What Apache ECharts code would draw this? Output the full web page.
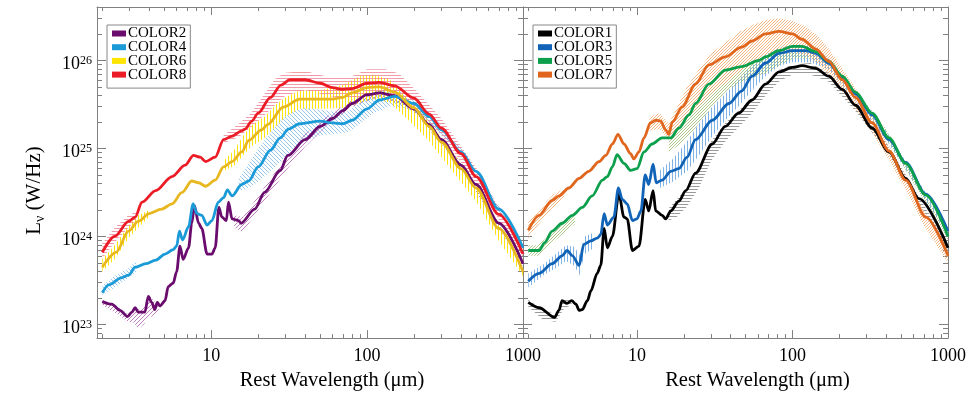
<!DOCTYPE html>
<html>
<head>
<meta charset="utf-8">
<script src="https://cdn.jsdelivr.net/npm/echarts@6/dist/echarts.min.js"></script>
<style>
  html, body { margin: 0; padding: 0; background: #fff; }
  #chart { width: 969px; height: 396px; }
</style>
</head>
<body>
<div id="chart"></div>
<script>
// ---- data (wavelength in micron, luminosity as log10 L_nu [W/Hz]) ----
// left panel
const c2X = [2.0, 2.3, 2.6, 2.9, 3.1, 3.25, 3.4, 3.75, 3.95, 4.15, 4.35, 4.5, 4.7, 5.05, 5.3, 5.7, 6.0, 6.3, 6.6, 7.15, 7.5, 7.8, 8.3, 8.7, 9.4, 10.1, 10.6, 11.2, 11.7, 12.5, 12.9, 13.6, 15.0, 15.5, 19, 22, 27.7, 31, 40, 50, 60, 70, 80, 100, 120, 150, 200, 250, 300, 400, 500, 700, 1000];
const c2LogL = [23.26, 23.23, 23.16, 23.09, 23.14, 23.19, 23.14, 23.14, 23.32, 23.25, 23.17, 23.25, 23.21, 23.27, 23.43, 23.47, 23.60, 23.89, 23.74, 23.87, 24.15, 24.35, 24.15, 24.09, 23.80, 23.80, 23.87, 24.33, 24.22, 24.18, 24.39, 24.20, 24.18, 24.15, 24.31, 24.50, 24.75, 24.92, 25.10, 25.25, 25.34, 25.43, 25.51, 25.61, 25.63, 25.60, 25.45, 25.27, 25.10, 24.81, 24.59, 24.15, 23.69];

const c4X = [2.0, 2.2, 2.65, 2.95, 3.25, 3.8, 4.4, 5.05, 5.7, 6.0, 6.25, 6.55, 7.15, 7.65, 8.1, 8.7, 9.4, 10.1, 11.1, 12.0, 12.7, 13.6, 15.7, 17.4, 20, 24, 27.7, 31.3, 37, 50, 60, 70, 80, 100, 120, 150, 200, 250, 300, 400, 500, 700, 1000];
const c4LogL = [23.36, 23.45, 23.53, 23.56, 23.65, 23.69, 23.73, 23.80, 23.85, 23.89, 24.06, 23.96, 24.11, 24.37, 24.26, 24.24, 24.13, 24.18, 24.39, 24.44, 24.53, 24.46, 24.59, 24.63, 24.79, 24.98, 25.12, 25.22, 25.28, 25.31, 25.29, 25.28, 25.32, 25.45, 25.55, 25.59, 25.51, 25.36, 25.21, 24.96, 24.74, 24.31, 23.87];

const c6X = [2.0, 2.45, 2.95, 3.4, 4.0, 4.8, 5.6, 6.5, 7.5, 8.3, 9.2, 10.6, 12, 13.6, 15.7, 17.4, 21, 23, 29, 37, 50, 60, 70, 80, 100, 120, 150, 200, 250, 300, 400, 500, 700, 1000];
const c6LogL = [23.65, 23.82, 24.06, 24.17, 24.26, 24.31, 24.37, 24.50, 24.63, 24.61, 24.57, 24.64, 24.79, 24.85, 24.96, 25.09, 25.21, 25.27, 25.47, 25.56, 25.56, 25.56, 25.58, 25.63, 25.69, 25.70, 25.64, 25.46, 25.25, 25.07, 24.77, 24.55, 24.09, 23.60];

const c8X = [2.0, 2.4, 2.95, 3.25, 3.6, 4.4, 5.6, 6.8, 7.7, 8.5, 9.2, 10.6, 12, 13.6, 15.7, 16.5, 18.2, 20, 24, 28, 32, 40, 50, 60, 70, 80, 100, 120, 150, 200, 250, 300, 400, 500, 700, 1000];
const c8LogL = [23.82, 24.00, 24.17, 24.22, 24.39, 24.52, 24.68, 24.81, 24.92, 24.90, 24.85, 24.90, 25.10, 25.14, 25.20, 25.22, 25.31, 25.40, 25.58, 25.72, 25.78, 25.78, 25.74, 25.69, 25.67, 25.68, 25.74, 25.75, 25.71, 25.57, 25.39, 25.23, 24.94, 24.68, 24.25, 23.80];

// right panel
const c1X = [2.0, 2.35, 2.95, 3.15, 3.3, 3.55, 3.8, 4.05, 4.25, 4.45, 4.8, 5.05, 5.55, 5.85, 6.15, 6.45, 6.95, 7.65, 8.25, 8.65, 9.35, 10.3, 11.3, 11.9, 12.7, 13.2, 14.5, 15.3, 16.5, 18.6, 20.6, 23.8, 30.5, 37, 45, 55, 67, 82, 100, 115, 141, 171, 209, 254, 325, 418, 534, 650, 1000];
const c1LogL = [23.25, 23.19, 23.08, 23.16, 23.27, 23.24, 23.27, 23.23, 23.16, 23.17, 23.27, 23.38, 23.58, 23.67, 24.09, 23.87, 24.00, 24.48, 24.22, 24.20, 23.84, 23.89, 24.42, 24.29, 24.52, 24.29, 24.24, 24.20, 24.29, 24.40, 24.52, 24.72, 25.05, 25.25, 25.40, 25.55, 25.73, 25.87, 25.92, 25.94, 25.91, 25.82, 25.67, 25.49, 25.23, 24.96, 24.66, 24.43, 23.87];

const c3X = [2.0, 2.35, 2.85, 3.3, 3.55, 3.85, 4.25, 4.55, 5.05, 5.55, 5.85, 6.15, 6.45, 7.1, 7.6, 8.05, 8.65, 9.35, 10.0, 10.6, 11.3, 11.9, 12.7, 13.3, 14.5, 16.5, 18.6, 21, 23.8, 30.5, 39, 47, 55, 67, 82, 100, 122, 141, 171, 209, 254, 325, 418, 534, 720, 1000];
const c3LogL = [23.49, 23.58, 23.69, 23.78, 23.84, 23.78, 23.67, 23.91, 23.95, 23.98, 24.02, 24.26, 24.13, 24.22, 24.55, 24.42, 24.37, 24.18, 24.20, 24.29, 24.70, 24.59, 24.82, 24.61, 24.64, 24.74, 24.77, 24.90, 25.10, 25.32, 25.51, 25.65, 25.82, 25.97, 26.08, 26.11, 26.11, 26.08, 25.97, 25.80, 25.62, 25.38, 25.10, 24.84, 24.48, 24.06];

const c5X = [2.0, 2.35, 2.55, 2.85, 3.3, 3.85, 4.45, 5.15, 6.0, 6.45, 6.95, 7.45, 8.25, 9.1, 10.0, 11.1, 12.5, 14.5, 16.5, 18.6, 21.6, 23.8, 29, 37, 47, 61, 67, 82, 100, 115, 141, 171, 209, 254, 325, 418, 534, 720, 1000];
const c5LogL = [23.84, 23.84, 23.93, 24.06, 24.15, 24.24, 24.33, 24.46, 24.64, 24.68, 24.79, 24.93, 24.83, 24.75, 24.77, 24.96, 25.05, 25.12, 25.12, 25.23, 25.38, 25.51, 25.73, 25.89, 25.93, 26.00, 26.04, 26.11, 26.16, 26.16, 26.10, 25.99, 25.82, 25.64, 25.40, 25.12, 24.83, 24.47, 24.00];

const c7X = [2.0, 2.35, 2.85, 3.15, 3.65, 4.25, 4.9, 5.7, 6.3, 6.95, 7.55, 8.25, 9.1, 9.55, 10.3, 11.1, 12.2, 13.2, 14.2, 15.3, 16.0, 16.9, 19.5, 23.8, 29, 37, 47, 55, 67, 82, 100, 115, 141, 171, 209, 254, 325, 418, 534, 720, 1000];
const c7LogL = [24.07, 24.24, 24.41, 24.46, 24.55, 24.66, 24.74, 24.85, 24.92, 25.05, 25.16, 25.05, 24.94, 24.88, 24.96, 25.12, 25.29, 25.32, 25.31, 25.21, 25.16, 25.30, 25.47, 25.73, 25.95, 26.04, 26.15, 26.22, 26.30, 26.33, 26.30, 26.24, 26.13, 25.99, 25.78, 25.58, 25.29, 24.97, 24.64, 24.22, 23.78];

// uncertainty bands (log10 L), null splits a band into pieces
const c2BandX = [2.0, 2.6, 2.9, 3.2, 3.4, 3.7, 4.0, 4.3, 4.6, null, 14, 16, 20, 25, 30, 40, 55, 80, 120, 200, 400, 1000];
const c2BandLo = [23.22, 23.10, 23.03, 23.02, 22.95, 23.00, 23.10, 23.08, 23.15, null, 24.10, 24.05, 24.30, 24.54, 24.74, 25.02, 25.26, 25.47, 25.59, 25.42, 24.78, 23.66];
const c2BandHi = [23.28, 23.18, 23.12, 23.20, 23.17, 23.20, 23.34, 23.26, 23.26, null, 24.24, 24.22, 24.46, 24.70, 24.90, 25.16, 25.36, 25.55, 25.66, 25.48, 24.84, 23.71];

const c4BandX = [2.0, 2.4, 2.95, 3.3, null, 15, 17, 20, 24, 28, 33, 40, 50, 60, 75, 90, 110, 140, 180, 250, 400, 700, 1000];
const c4BandLo = [23.33, 23.42, 23.53, 23.60, null, 24.52, 24.54, 24.62, 24.74, 24.86, 24.98, 25.08, 25.15, 25.16, 25.18, 25.28, 25.40, 25.48, 25.46, 25.30, 24.91, 24.28, 23.84];
const c4BandHi = [23.44, 23.55, 23.64, 23.72, null, 24.66, 24.80, 25.00, 25.18, 25.32, 25.42, 25.46, 25.44, 25.42, 25.42, 25.52, 25.64, 25.68, 25.62, 25.42, 25.00, 24.35, 23.90];

const c6BandX = [2.0, 2.4, 2.95, 3.4, 4.0, null, 12, 14, 16, 18, 22, 26, 30, 37, 50, 70, 90, 110, 140, 180, 250, 350, 500, 700, 1000];
const c6BandLo = [23.60, 23.74, 23.98, 24.10, 24.22, null, 24.74, 24.80, 24.92, 25.02, 25.12, 25.25, 25.36, 25.45, 25.45, 25.46, 25.52, 25.56, 25.52, 25.34, 25.08, 24.75, 24.40, 23.95, 23.55];
const c6BandHi = [23.74, 23.90, 24.12, 24.24, 24.30, null, 24.86, 24.98, 25.14, 25.26, 25.36, 25.50, 25.58, 25.66, 25.66, 25.72, 25.82, 25.84, 25.78, 25.58, 25.30, 24.97, 24.58, 24.12, 23.62];

const c8BandX = [2.0, 2.4, 2.95, 3.3, null, 12, 15, 18, 22, 26, 30, 40, 60, 80, 100, 130, 160, 200, 300, 500, 1000];
const c8BandLo = [23.75, 23.93, 24.10, 24.18, null, 25.06, 25.13, 25.24, 25.38, 25.50, 25.60, 25.66, 25.59, 25.56, 25.60, 25.62, 25.58, 25.48, 25.15, 24.60, 23.76];
const c8BandHi = [23.92, 24.10, 24.24, 24.28, null, 25.15, 25.28, 25.40, 25.62, 25.80, 25.86, 25.88, 25.80, 25.82, 25.90, 25.90, 25.85, 25.68, 25.34, 24.78, 23.84];

const c1BandX = [2.0, 2.5, 3.0, 3.4, 3.8, null, 16, 18, 21, 25, 30, 37, 45, 55, 67, 82, 100, 130, 170, 250, 400, 1000];
const c1BandLo = [23.20, 23.05, 23.03, 23.18, 23.22, null, 24.18, 24.22, 24.34, 24.55, 24.86, 25.08, 25.24, 25.40, 25.60, 25.76, 25.84, 25.84, 25.76, 25.44, 24.98, 23.84];
const c1BandHi = [23.28, 23.16, 23.12, 23.30, 23.29, null, 24.32, 24.42, 24.55, 24.78, 25.08, 25.29, 25.43, 25.57, 25.75, 25.89, 25.95, 25.97, 25.86, 25.52, 25.07, 23.90];

const c3BandX = [2.0, 2.5, 3.0, 3.5, 4.0, 4.25, 4.6, 5.2, null, 14, 17, 21, 25, 30, 37, 45, 55, 67, 82, 100, 130, 170, 250, 400, 1000];
const c3BandLo = [23.42, 23.56, 23.64, 23.72, 23.66, 23.55, 23.80, 23.86, null, 24.55, 24.62, 24.74, 24.92, 25.12, 25.32, 25.48, 25.66, 25.82, 25.94, 25.98, 25.98, 25.90, 25.56, 25.10, 24.02];
const c3BandHi = [23.58, 23.68, 23.80, 23.90, 23.88, 23.78, 24.00, 24.04, null, 24.75, 24.88, 25.08, 25.28, 25.46, 25.62, 25.78, 25.94, 26.06, 26.14, 26.17, 26.16, 26.02, 25.68, 25.20, 24.10];

const c5BandX = [2.0, 2.3, 2.6, 3.0, 3.5, 4.0, null, 16, 18, 21, 25, 30, 37, 45, 55, 67, 82, 100, 130, 170, 250, 400, 1000];
const c5BandLo = [23.78, 23.78, 23.86, 23.96, 24.06, 24.14, null, 24.96, 25.02, 25.12, 25.28, 25.46, 25.64, 25.74, 25.80, 25.85, 25.94, 26.02, 26.02, 25.92, 25.60, 25.12, 23.96];
const c5BandHi = [23.90, 23.90, 23.98, 24.10, 24.20, 24.28, null, 25.16, 25.26, 25.40, 25.60, 25.78, 25.92, 25.96, 26.00, 26.06, 26.14, 26.18, 26.16, 26.02, 25.68, 25.22, 24.03];

const c7BandX = [2.0, 2.4, 2.9, 3.4, null, 12, 14, 16, 18, 21, 25, 30, 37, 45, 55, 67, 82, 100, 120, 145, 170, 210, 260, 330, 420, 530, 700, 1000];
const c7BandLo = [23.98, 24.16, 24.33, 24.44, null, 25.20, 25.22, 25.10, 25.22, 25.34, 25.48, 25.62, 25.74, 25.86, 25.96, 26.04, 26.08, 26.10, 26.06, 25.97, 25.84, 25.64, 25.42, 25.16, 24.86, 24.54, 24.12, 23.70];
const c7BandHi = [24.16, 24.32, 24.48, 24.54, null, 25.36, 25.40, 25.28, 25.46, 25.70, 25.90, 26.08, 26.20, 26.32, 26.40, 26.46, 26.48, 26.45, 26.39, 26.28, 26.14, 25.90, 25.66, 25.34, 25.02, 24.70, 24.30, 23.82];

// tick labels
const xMajor = [10, 100, 1000];
const xMinor = [2, 3, 4, 5, 6, 7, 8, 9, 20, 30, 40, 50, 60, 70, 80, 90, 200, 300, 400, 500, 600, 700, 800, 900];
const yMajor = [1e23, 1e24, 1e25, 1e26];
const yMinor = [8e22, 9e22, 2e23, 3e23, 4e23, 5e23, 6e23, 7e23, 8e23, 9e23, 2e24, 3e24, 4e24, 5e24, 6e24, 7e24, 8e24, 9e24,
  2e25, 3e25, 4e25, 5e25, 6e25, 7e25, 8e25, 9e25, 2e26, 3e26, 4e26];

const SERIF = '"Liberation Serif", "DejaVu Serif", serif';
const GREY = '#808080';
const X_MIN = 1.85, X_MAX = 1000;
const Y_MIN = 7e22, Y_MAX = 4.04e26;

// hatch pattern for the uncertainty bands
function hatch(color, kind) {
  const c = document.createElement('canvas');
  const s = kind === 'd' || kind === 'a' ? 4 : 3;
  c.width = s; c.height = s;
  const g = c.getContext('2d');
  g.fillStyle = color;
  if (kind === 'h') g.fillRect(0, 0, s, 1);
  else if (kind === 'v') g.fillRect(0, 0, 1, s);
  else if (kind === 'd') { for (let i = 0; i < s; i++) g.fillRect(i, s - 1 - i, 1, 1); }
  else if (kind === 'a') { for (let i = 0; i < s; i++) g.fillRect(i, i, 1, 1); }
  else { g.fillRect(0, 0, 1, 1); g.fillRect(1, 2, 1, 1); g.fillRect(2, 1, 1, 1); }
  return { image: c, repeat: 'repeat' };
}

const curves = [
  { name: 'COLOR2', grid: 0, x: c2X, y: c2LogL, bx: c2BandX, lo: c2BandLo, hi: c2BandHi, color: '#6a0b6e', fill: hatch('rgba(175,95,175,0.8)', 'd') },
  { name: 'COLOR4', grid: 0, x: c4X, y: c4LogL, bx: c4BandX, lo: c4BandLo, hi: c4BandHi, color: '#1b9ad8', fill: hatch('rgba(125,185,235,0.8)', 'a') },
  { name: 'COLOR6', grid: 0, x: c6X, y: c6LogL, bx: c6BandX, lo: c6BandLo, hi: c6BandHi, color: '#e8b820', legendColor: '#ffe500', fill: hatch('rgba(255,226,0,0.95)', 'v') },
  { name: 'COLOR8', grid: 0, x: c8X, y: c8LogL, bx: c8BandX, lo: c8BandLo, hi: c8BandHi, color: '#ec1c26', fill: hatch('rgba(240,130,150,0.8)', 'h') },
  { name: 'COLOR1', grid: 1, x: c1X, y: c1LogL, bx: c1BandX, lo: c1BandLo, hi: c1BandHi, color: '#000000', fill: hatch('rgba(120,120,120,0.75)', 'h') },
  { name: 'COLOR3', grid: 1, x: c3X, y: c3LogL, bx: c3BandX, lo: c3BandLo, hi: c3BandHi, color: '#1063b6', fill: hatch('rgba(95,160,225,0.8)', 'v') },
  { name: 'COLOR5', grid: 1, x: c5X, y: c5LogL, bx: c5BandX, lo: c5BandLo, hi: c5BandHi, color: '#0c9f4c', fill: hatch('rgba(160,190,120,0.85)', 'p') },
  { name: 'COLOR7', grid: 1, x: c7X, y: c7LogL, bx: c7BandX, lo: c7BandLo, hi: c7BandHi, color: '#e0661d', fill: hatch('rgba(245,170,110,0.85)', 'p') }
];

function xAxes(gi, withName) {
  const base = {
    type: 'log', logBase: 10, gridIndex: gi, min: X_MIN, max: X_MAX,
    splitLine: { show: false }, axisLabel: { show: false },
    axisLine: { show: false, onZero: false }
  };
  const tick = (vals, len) => ({ show: true, inside: true, length: len, customValues: vals, lineStyle: { color: GREY } });
  return [
    Object.assign({}, base, {
      position: 'bottom',
      axisLine: { show: true, onZero: false, lineStyle: { color: GREY } },
      axisTick: tick(xMajor, 8),
      axisLabel: {
        show: true, customValues: xMajor, margin: 9, color: '#000', fontFamily: SERIF, fontSize: 18,
        formatter: v => String(Math.round(v))
      },
      name: withName ? 'Rest Wavelength (μm)' : '',
      nameLocation: 'middle', nameGap: 28,
      nameTextStyle: { color: '#000', fontFamily: SERIF, fontSize: 20.5, padding: [0, 0, 0, 44] }
    }),
    Object.assign({}, base, { position: 'bottom', axisTick: tick(xMinor, 4) }),
    Object.assign({}, base, { position: 'top', axisLine: { show: true, onZero: false, lineStyle: { color: GREY } }, axisTick: tick(xMajor, 8) }),
    Object.assign({}, base, { position: 'top', axisTick: tick(xMinor, 4) })
  ];
}

function yAxes(gi, withLabels) {
  const base = {
    type: 'log', logBase: 10, gridIndex: gi, min: Y_MIN, max: Y_MAX,
    splitLine: { show: false }, axisLabel: { show: false },
    axisLine: { show: false, onZero: false }
  };
  const tick = (vals, len) => ({ show: true, inside: true, length: len, customValues: vals, lineStyle: { color: GREY } });
  const main = Object.assign({}, base, {
    position: 'left',
    axisLine: { show: true, onZero: false, lineStyle: { color: GREY } },
    axisTick: tick(yMajor, 9)
  });
  if (withLabels) {
    main.axisLabel = {
      show: true, customValues: yMajor, margin: 5, padding: [8, 0, 0, 0],
      formatter: v => '{b|10}{s|' + Math.round(Math.log10(v)) + '}',
      rich: {
        b: { fontFamily: SERIF, fontSize: 18, color: '#000', lineHeight: 20 },
        s: { fontFamily: SERIF, fontSize: 12, color: '#000', lineHeight: 13, verticalAlign: 'top' }
      }
    };
    main.name = 'L{s|ν} (W/Hz)';
    main.nameLocation = 'middle';
    main.nameGap = 50;
    main.nameTextStyle = {
      color: '#000', fontFamily: SERIF, fontSize: 21, padding: [0, 36, 0, 0],
      rich: { s: { fontFamily: SERIF, fontSize: 14, color: '#000', verticalAlign: 'bottom', lineHeight: 26 } }
    };
  }
  return [
    main,
    Object.assign({}, base, { position: 'left', axisTick: tick(yMinor, 5) }),
    Object.assign({}, base, { position: 'right', axisLine: { show: true, onZero: false, lineStyle: { color: GREY } }, axisTick: tick(yMajor, 9) }),
    Object.assign({}, base, { position: 'right', axisTick: tick(yMinor, 5) })
  ];
}

const series = [];
curves.forEach(c => {
  const ax = c.grid * 4;
  series.push({
    type: 'custom', name: c.name + ' band', xAxisIndex: ax, yAxisIndex: ax, silent: true, z: 1,
    data: [[c.bx[0], Math.pow(10, c.lo[0])]],
    renderItem: function (params, api) {
      const children = [];
      let up = [], dn = [];
      const flush = () => {
        if (up.length > 1) {
          children.push({ type: 'polygon', shape: { points: up.concat(dn.reverse()) }, style: { fill: c.fill } });
        }
        up = []; dn = [];
      };
      for (let i = 0; i < c.bx.length; i++) {
        if (c.bx[i] === null) { flush(); continue; }
        up.push(api.coord([c.bx[i], Math.pow(10, c.hi[i])]));
        dn.push(api.coord([c.bx[i], Math.pow(10, c.lo[i])]));
      }
      flush();
      return { type: 'group', children: children };
    }
  });
});
curves.forEach(c => {
  const ax = c.grid * 4;
  series.push({
    type: 'line', name: c.name, xAxisIndex: ax, yAxisIndex: ax, z: 3,
    data: c.x.map((x, i) => [x, Math.pow(10, c.y[i])]),
    showSymbol: false, smooth: 0.3, smoothMonotone: 'x',
    lineStyle: { color: c.color, width: 2.8 },
    itemStyle: { color: c.legendColor || c.color }
  });
});

function legendFor(names, left) {
  return {
    orient: 'vertical', left: left, top: 25,
    data: names.map(n => {
      const c = curves.find(k => k.name === n);
      return { name: n, itemStyle: { color: c.legendColor || c.color } };
    }),
    icon: 'rect', itemWidth: 14, itemHeight: 6, itemGap: -1.3,
    borderColor: '#888', borderWidth: 1, padding: [1, 4, 6, 5],
    textStyle: { fontFamily: SERIF, fontSize: 15, color: '#000', padding: [0, 0, 0, -3] }
  };
}

const chart = echarts.init(document.getElementById('chart'), null, { renderer: 'canvas' });
chart.setOption({
  animation: false,
  backgroundColor: '#fff',
  grid: [
    { left: 97, top: 7, width: 426, height: 341 },
    { left: 523, top: 7, width: 426, height: 341 }
  ],
  xAxis: xAxes(0, true).concat(xAxes(1, true)),
  yAxis: yAxes(0, true).concat(yAxes(1, false)),
  legend: [
    legendFor(['COLOR2', 'COLOR4', 'COLOR6', 'COLOR8'], 107),
    legendFor(['COLOR1', 'COLOR3', 'COLOR5', 'COLOR7'], 533)
  ],
  series: series
});
</script>
</body>
</html>
